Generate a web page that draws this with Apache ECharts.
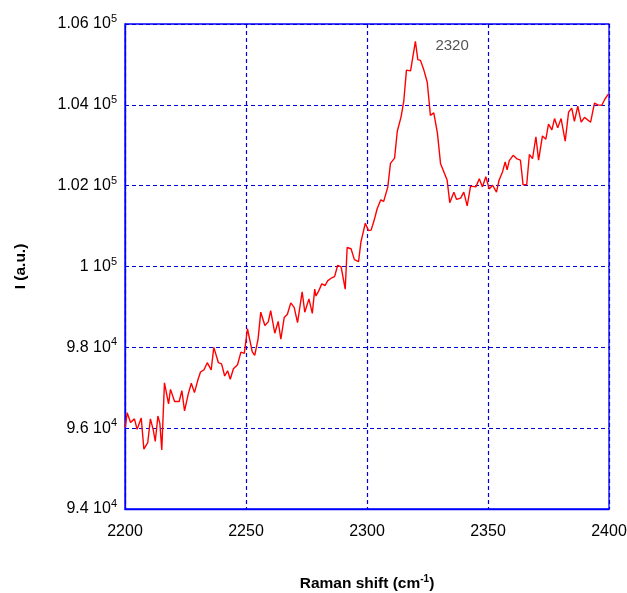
<!DOCTYPE html>
<html>
<head>
<meta charset="utf-8">
<script src="https://cdn.jsdelivr.net/npm/echarts@6/dist/echarts.min.js"></script>
<style>
  html, body { margin: 0; padding: 0; background: #fff; }
  #chart { width: 627px; height: 593px; }
</style>
</head>
<body>
<div id="chart"></div>
<script>
// Raman spectrum around the 2320 cm-1 band
const ramanShift = [
  2200.1, 2200.9, 2202.3, 2203.9, 2205.0, 2206.7, 2207.8, 2209.4, 2210.5, 2211.7,
  2212.5, 2213.6, 2214.4, 2215.2, 2216.3, 2218.0, 2218.8, 2220.5, 2222.4, 2223.5,
  2224.6, 2226.2, 2227.4, 2228.7, 2230.1, 2231.2, 2232.6, 2234.0, 2235.6, 2236.7,
  2238.6, 2239.9, 2241.2, 2242.4, 2243.5, 2244.8, 2246.5, 2247.9, 2249.3, 2250.6,
  2252.6, 2253.6, 2255.0, 2256.1, 2257.8, 2259.2, 2260.2, 2261.9, 2263.3, 2264.4,
  2265.8, 2267.1, 2268.5, 2269.9, 2271.3, 2273.2, 2274.3, 2276.0, 2277.4, 2278.4,
  2278.9, 2280.0, 2281.3, 2282.7, 2283.8, 2285.2, 2286.6, 2287.9, 2289.3, 2291.0,
  2291.8, 2293.4, 2294.8, 2296.5, 2297.5, 2299.3, 2300.6, 2301.7, 2302.9, 2304.2,
  2305.7, 2306.9, 2308.6, 2309.7, 2311.4, 2312.5, 2314.1, 2315.2, 2316.3, 2318.0,
  2320.0, 2321.0, 2322.1, 2323.5, 2324.9, 2326.2, 2327.6, 2329.1, 2330.4, 2331.7,
  2333.1, 2334.2, 2335.9, 2337.0, 2338.7, 2340.0, 2341.4, 2342.8, 2345.0, 2346.4,
  2347.7, 2349.1, 2350.5, 2351.9, 2353.5, 2354.6, 2356.0, 2357.1, 2357.9, 2358.8,
  2360.4, 2361.8, 2363.4, 2364.5, 2366.0, 2367.1, 2368.4, 2369.8, 2370.9, 2372.5,
  2373.9, 2375.0, 2376.4, 2377.5, 2378.8, 2380.2, 2381.9, 2383.3, 2384.6, 2385.7,
  2387.1, 2388.5, 2389.9, 2392.4, 2394.0, 2395.4, 2397.0, 2398.4, 2399.8
];
const intensity = [
  96020, 96380, 96140, 96230, 95970, 96250, 95480, 95640, 96230, 95950,
  95670, 96300, 96120, 95460, 97120, 96600, 96960, 96660, 96660, 96930,
  96430, 96860, 97110, 96880, 97190, 97390, 97440, 97620, 97440, 98000,
  97620, 97590, 97290, 97420, 97210, 97470, 97570, 97880, 97850, 98460,
  97890, 97800, 98210, 98870, 98540, 98630, 98910, 98350, 98640, 98200,
  98740, 98820, 99100, 98990, 98610, 99370, 98870, 99200, 98840, 99440,
  99270, 99390, 99570, 99530, 99650, 99710, 99750, 100030, 99990, 99440,
  100470, 100440, 100170, 100120, 100610, 101070, 100890, 100900, 101130, 101430,
  101650, 101610, 101970, 102550, 102680, 103340, 103710, 104090, 104860, 104840,
  105570, 105120, 105100, 104860, 104560, 103740, 103800, 103300, 102540, 102350,
  102140, 101580, 101840, 101660, 101690, 101840, 101500, 101990, 101970, 102170,
  101970, 102220, 101920, 102010, 101840, 102140, 102340, 102590, 102390, 102620,
  102750, 102670, 102630, 102020, 102030, 102770, 102670, 103210, 102630, 103230,
  103150, 103520, 103380, 103660, 103430, 103660, 103100, 103820, 103920, 103590,
  103970, 103570, 103690, 103570, 104040, 104000, 103990, 104150, 104270
];
const peakLabel = '2320';

// y tick labels written as "mantissa 10^exponent"
const yTickValues    = [94000, 96000, 98000, 100000, 102000, 104000, 106000];
const yTickMantissas = ['9.4', '9.6', '9.8', '1', '1.02', '1.04', '1.06'];
const yTickExponents = ['4', '4', '4', '5', '5', '5', '5'];
const xTickValues    = [2200, 2250, 2300, 2350, 2400];

const points = ramanShift.map((x, i) => [x, intensity[i]]);
let peakIdx = 0;
intensity.forEach((v, i) => { if (v > intensity[peakIdx]) peakIdx = i; });

const FONT = '"Liberation Sans", Arial, sans-serif';
const BLUE = '#0000ff';
const GRID_BLUE = '#0000dd';

const chart = echarts.init(document.getElementById('chart'), null, { renderer: 'canvas' });
chart.setOption({
  animation: false,
  backgroundColor: '#fff',
  grid: {
    left: 125, right: 18, top: 24, bottom: 84,
    outerBoundsMode: 'none',
    containLabel: false,
    show: true, borderColor: BLUE, borderWidth: 1.3, backgroundColor: 'transparent'
  },
  xAxis: {
    type: 'value',
    min: xTickValues[0], max: xTickValues[xTickValues.length - 1], interval: 50,
    axisLine: { show: true, onZero: false, lineStyle: { color: BLUE, width: 1.3 } },
    axisTick: { show: false },
    splitLine: { show: true, lineStyle: { color: GRID_BLUE, type: [4, 3], width: 1.2 } },
    axisLabel: {
      color: '#000', fontFamily: FONT, fontSize: 16, margin: 15,
      formatter: (v) => String(v)
    },
    name: 'Raman shift (cm{sup|-1})',
    nameLocation: 'middle',
    nameGap: 65,
    nameTextStyle: {
      color: '#000', fontFamily: FONT, fontSize: 15.5, fontWeight: 'bold',
      rich: { sup: { fontFamily: FONT, fontSize: 10, fontWeight: 'bold', color: '#000', padding: [0, 0, 10, 0] } }
    }
  },
  yAxis: {
    type: 'value',
    min: yTickValues[0], max: yTickValues[yTickValues.length - 1], interval: 2000,
    axisLine: { show: true, onZero: false, lineStyle: { color: BLUE, width: 1.3 } },
    axisTick: { show: false },
    splitLine: { show: true, lineStyle: { color: GRID_BLUE, type: [4, 3], width: 1.2 } },
    axisLabel: {
      margin: 8,
      formatter: (v) => {
        const i = yTickValues.indexOf(v);
        if (i < 0) return '';
        return '{m|' + yTickMantissas[i] + ' 10}{s|' + yTickExponents[i] + '}';
      },
      rich: {
        m: { color: '#000', fontFamily: FONT, fontSize: 16 },
        s: { color: '#000', fontFamily: FONT, fontSize: 11, padding: [0, 0, 10, 0] }
      }
    },
    name: 'I (a.u.)',
    nameLocation: 'middle',
    nameGap: 96,
    nameTextStyle: { color: '#000', fontFamily: FONT, fontSize: 15.5, fontWeight: 'bold' }
  },
  series: [{
    type: 'line',
    data: points,
    showSymbol: false,
    symbol: 'none',
    lineStyle: { color: '#ff0000', width: 1.4 },
    markPoint: {
      symbol: 'circle', symbolSize: 0,
      data: [{ coord: points[peakIdx] }],
      label: {
        show: true, formatter: peakLabel, position: 'right',
        offset: [15, 4], color: '#555', fontFamily: FONT, fontSize: 15
      }
    }
  }]
});
</script>
</body>
</html>
